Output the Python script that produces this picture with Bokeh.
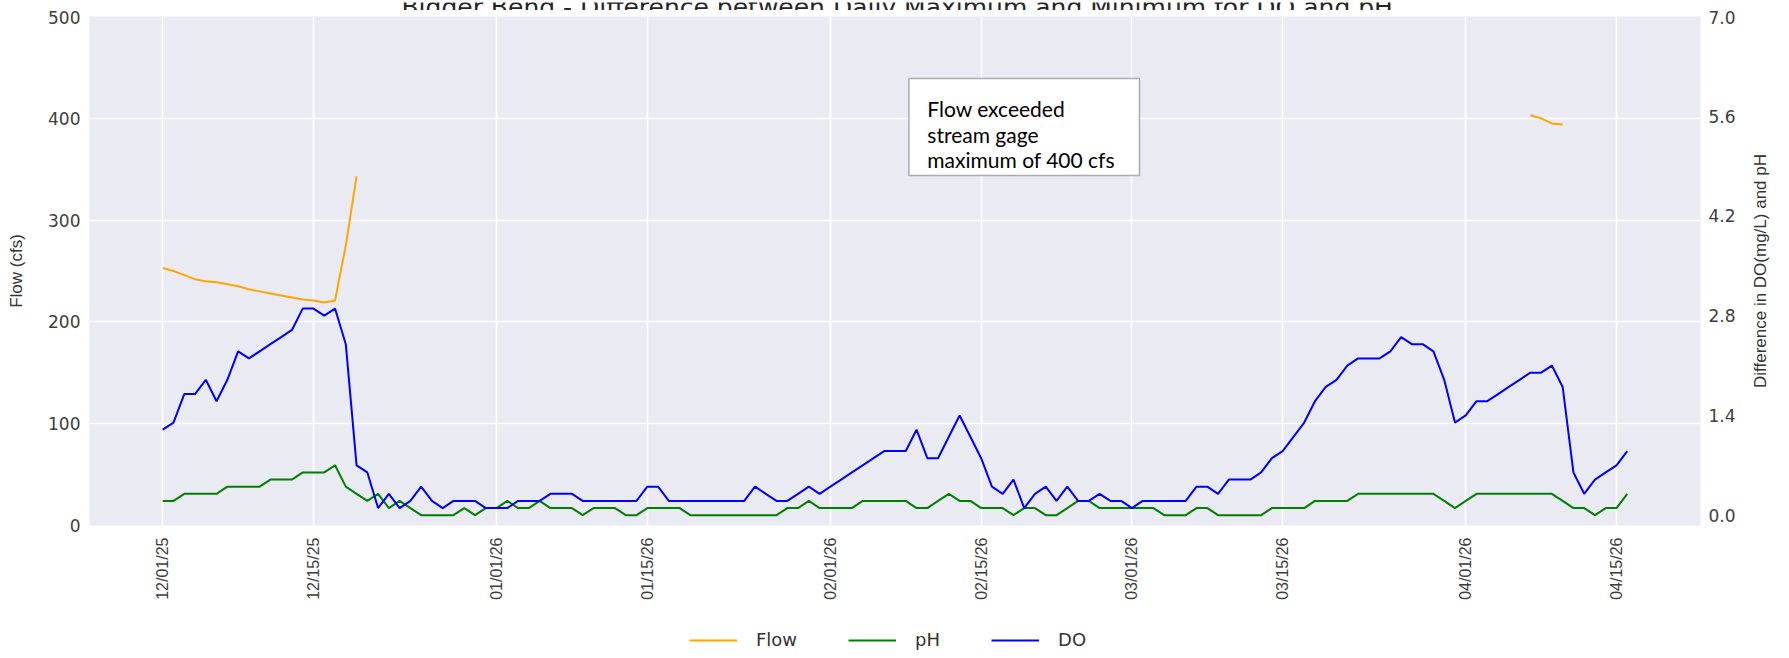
import math
import numpy as np
import pandas as pd
from bokeh.plotting import figure
from bokeh.layouts import column, row
from bokeh.models import (ColumnDataSource, Range1d, LinearAxis, FixedTicker,
                          DatetimeTickFormatter, NumeralTickFormatter, Legend,
                          LegendItem, BoxAnnotation, Label)
from bokeh.embed import file_html
from bokeh.resources import INLINE

# ---------------- data ----------------
TITLE = "Bigger Bend - Difference between Daily Maximum and Minimum for DO and pH"
START = "2025-12-01"

do_diff = [1.2, 1.3, 1.7, 1.7, 1.9, 1.6, 1.9, 2.3, 2.2, 2.3,
           2.4, 2.5, 2.6, 2.9, 2.9, 2.8, 2.9, 2.4, 0.7, 0.6,
           0.1, 0.3, 0.1, 0.2, 0.4, 0.2, 0.1, 0.2, 0.2, 0.2,
           0.1, 0.1, 0.1, 0.2, 0.2, 0.2, 0.3, 0.3, 0.3, 0.2,
           0.2, 0.2, 0.2, 0.2, 0.2, 0.4, 0.4, 0.2, 0.2, 0.2,
           0.2, 0.2, 0.2, 0.2, 0.2, 0.4, 0.3, 0.2, 0.2, 0.3,
           0.4, 0.3, 0.4, 0.5, 0.6, 0.7, 0.8, 0.9, 0.9, 0.9,
           1.2, 0.8, 0.8, 1.1, 1.4, 1.1, 0.8, 0.4, 0.3, 0.5,
           0.1, 0.3, 0.4, 0.2, 0.4, 0.2, 0.2, 0.3, 0.2, 0.2,
           0.1, 0.2, 0.2, 0.2, 0.2, 0.2, 0.4, 0.4, 0.3, 0.5,
           0.5, 0.5, 0.6, 0.8, 0.9, 1.1, 1.3, 1.6, 1.8, 1.9,
           2.1, 2.2, 2.2, 2.2, 2.3, 2.5, 2.4, 2.4, 2.3, 1.9,
           1.3, 1.4, 1.6, 1.6, 1.7, 1.8, 1.9, 2.0, 2.0, 2.1,
           1.8, 0.6, 0.3, 0.5, 0.6, 0.7, 0.9]

ph_diff = [0.2, 0.2, 0.3, 0.3, 0.3, 0.3, 0.4, 0.4, 0.4, 0.4,
           0.5, 0.5, 0.5, 0.6, 0.6, 0.6, 0.7, 0.4, 0.3, 0.2,
           0.3, 0.1, 0.2, 0.1, 0.0, 0.0, 0.0, 0.0, 0.1, 0.0,
           0.1, 0.1, 0.2, 0.1, 0.1, 0.2, 0.1, 0.1, 0.1, 0.0,
           0.1, 0.1, 0.1, 0.0, 0.0, 0.1, 0.1, 0.1, 0.1, 0.0,
           0.0, 0.0, 0.0, 0.0, 0.0, 0.0, 0.0, 0.0, 0.1, 0.1,
           0.2, 0.1, 0.1, 0.1, 0.1, 0.2, 0.2, 0.2, 0.2, 0.2,
           0.1, 0.1, 0.2, 0.3, 0.2, 0.2, 0.1, 0.1, 0.1, 0.0,
           0.1, 0.1, 0.0, 0.0, 0.1, 0.2, 0.2, 0.1, 0.1, 0.1,
           0.1, 0.1, 0.1, 0.0, 0.0, 0.0, 0.1, 0.1, 0.0, 0.0,
           0.0, 0.0, 0.0, 0.1, 0.1, 0.1, 0.1, 0.2, 0.2, 0.2,
           0.2, 0.3, 0.3, 0.3, 0.3, 0.3, 0.3, 0.3, 0.3, 0.2,
           0.1, 0.2, 0.3, 0.3, 0.3, 0.3, 0.3, 0.3, 0.3, 0.3,
           0.2, 0.1, 0.1, 0.0, 0.1, 0.1, 0.3]

# flow record (gage maxed out in between)
flow_dec = [253, 250, 246, 242, 240, 239, 237, 235, 232, 230,
            228, 226, 224, 222, 221, 219, 221, 275, 343]
flow_apr_start = "2026-04-07"
flow_apr = [403, 400, 395, 394]

x_tick_dates = ["2025-12-01", "2025-12-15", "2026-01-01", "2026-01-15",
                "2026-02-01", "2026-02-15", "2026-03-01", "2026-03-15",
                "2026-04-01", "2026-04-15"]
flow_ticks = [0, 100, 200, 300, 400, 500]
diff_ticks = [0.0, 1.4, 2.8, 4.2, 5.6, 7.0]
legend_labels = ["Flow", "pH", "DO"]
series_colors = ["#FFA500", "#008000", "#0000FF"]
note_lines = ["Flow exceeded", "stream gage", "maximum of 400 cfs"]
left_label = "Flow (cfs)"
right_label = "Difference in DO(mg/L) and pH"

# ---------------- build ----------------
dates = pd.date_range(START, periods=len(do_diff), freq="D")
flow = pd.Series(np.nan, index=dates)
flow.iloc[:len(flow_dec)] = flow_dec
flow.loc[pd.date_range(flow_apr_start, periods=len(flow_apr), freq="D")] = flow_apr

src = ColumnDataSource(dict(date=dates, do=do_diff, ph=ph_diff, flow=flow.values))

DAY = 86400000.0
t0 = pd.Timestamp(START).value / 1e6


def day(d):
    return t0 + d * DAY


span = len(do_diff) - 1
x_start = day(-0.05 * span)
x_end = day(span + 0.05 * span)

W = 1789
W_RIGHT = 44            # strip holding the right-hand axis title
H_TITLE = 10
H_MAIN = 610 - H_TITLE
H_LEG = 48
TOP = 16 - H_TITLE      # border above the frame inside the main plot
BOTTOM = H_MAIN - 509 - TOP
PX = 509 / 500.0        # pixels per flow unit on the frame
xr = Range1d(x_start, x_end)

p = figure(width=W - W_RIGHT, height=H_MAIN, x_axis_type="datetime",
           output_backend="svg", toolbar_location=None, x_range=xr,
           y_range=Range1d(0, 500), min_border_left=89,
           min_border_right=W - W_RIGHT - 1700, min_border_top=TOP,
           min_border_bottom=BOTTOM)
p.background_fill_color = "#EAEAF2"
p.border_fill_color = "white"
p.outline_line_color = None
p.extra_y_ranges = {"diff": Range1d(-0.145, 7.0)}

TICK_COLOR = "#3d3d3d"

# x axis
xa = p.xaxis[0]
xa.ticker = FixedTicker(ticks=[pd.Timestamp(d).value / 1e6 for d in x_tick_dates])
xa.formatter = DatetimeTickFormatter(days="%m/%d/%y", months="%m/%d/%y",
                                     years="%m/%d/%y", hours="%m/%d/%y")
xa.major_label_orientation = math.pi / 2
xa.major_label_text_font = "Liberation Sans"
xa.major_label_text_font_size = "16px"
xa.major_label_text_color = TICK_COLOR
xa.major_label_standoff = 12

# left axis
ya = p.yaxis[0]
ya.ticker = FixedTicker(ticks=flow_ticks)
ya.major_label_text_font = "DejaVu Sans"
ya.major_label_text_font_size = "17px"
ya.major_label_text_color = TICK_COLOR
ya.major_label_standoff = 9
ya.axis_label = left_label
ya.axis_label_text_font = "Liberation Sans"
ya.axis_label_text_font_size = "17px"
ya.axis_label_text_font_style = "normal"
ya.axis_label_text_color = "#333333"
ya.axis_label_standoff = 19

# right axis
ra = LinearAxis(y_range_name="diff", ticker=FixedTicker(ticks=diff_ticks),
                formatter=NumeralTickFormatter(format="0.0"))
ra.major_label_text_font = "DejaVu Sans"
ra.major_label_text_font_size = "17px"
ra.major_label_text_color = TICK_COLOR
ra.major_label_standoff = 8
p.add_layout(ra, "right")

for ax in [xa, ya, ra]:
    ax.axis_line_color = None
    ax.major_tick_line_color = None
    ax.minor_tick_line_color = None
    ax.major_tick_out = 0
    ax.major_tick_in = 0

p.xgrid.grid_line_color = "white"
p.xgrid.grid_line_width = 1.5
p.ygrid.grid_line_color = "white"
p.ygrid.grid_line_width = 1.5

# lines
p.line("date", "flow", source=src, line_color=series_colors[0], line_width=2)
p.line("date", "ph", source=src, line_color=series_colors[1], line_width=2,
       y_range_name="diff")
p.line("date", "do", source=src, line_color=series_colors[2], line_width=2,
       y_range_name="diff")

# note box
box = BoxAnnotation(left=day(69.3), right=day(90.7), top=(525 - 78) / PX,
                    bottom=(525 - 175) / PX,
                    fill_color="white", fill_alpha=1.0, line_color="black",
                    line_width=1.5, level="overlay")
p.add_layout(box)
for i, t in enumerate(note_lines):
    p.add_layout(Label(x=day(71.0), y=(525 - 108 - 25.5 * i) / PX, text=t,
                       text_font="Lato", text_font_size="21px",
                       text_color="black", text_baseline="alphabetic",
                       level="overlay"))


def strip(width, height, x_range, y_range, **borders):
    f = figure(width=width, height=height, output_backend="svg",
               toolbar_location=None, x_range=x_range, y_range=y_range,
               x_axis_location=None, y_axis_location=None, **borders)
    f.outline_line_color = None
    f.grid.visible = False
    f.background_fill_color = "white"
    f.border_fill_color = "white"
    return f


# ---------------- right axis title strip ----------------
pr = strip(W_RIGHT, H_MAIN, Range1d(0, W_RIGHT), Range1d(0, 509),
           min_border_left=0, min_border_right=0, min_border_top=TOP,
           min_border_bottom=BOTTOM)
pr.add_layout(Label(x=1760 - (W - W_RIGHT), y=509 - 254.5, text=right_label,
                    angle=math.pi / 2, text_font="Liberation Sans",
                    text_font_size="17px", text_color="#333333",
                    text_align="center", text_baseline="middle"))

# ---------------- title strip (title is cut by the top edge, as in the original) ----
pt = strip(W, H_TITLE, xr, Range1d(0, H_TITLE), min_border_left=89,
           min_border_right=89, min_border_top=0, min_border_bottom=0)
pt.add_layout(Label(x=day(68.2), y=H_TITLE - 5, text=TITLE,
                    text_font="DejaVu Sans", text_font_size="25px",
                    text_color="#262626", text_align="center",
                    text_baseline="alphabetic"))

# ---------------- legend strip ----------------
pl = strip(W, H_LEG, Range1d(0, 1), Range1d(0, 1), min_border_left=89,
           min_border_right=89, min_border_top=0, min_border_bottom=0)
items = []
for lab, col in zip(legend_labels, series_colors):
    # placeholder renderer (outside the visible range) so the legend draws the swatch
    r = pl.line(x=[-2, -1], y=[-2, -1], line_color=col, line_width=2)
    items.append(LegendItem(label=lab, renderers=[r]))
legend = Legend(items=items, orientation="horizontal", location=(600, 8),
                glyph_width=48, glyph_height=20, label_standoff=19, spacing=51,
                padding=0, margin=0, border_line_color=None,
                background_fill_alpha=0, label_text_font="DejaVu Sans",
                label_text_font_size="18px", label_text_color="#333333")
pl.add_layout(legend)

layout = column(pt, row(p, pr, spacing=0), pl, spacing=0)
open("out.html", "w").write(file_html(layout, INLINE))
